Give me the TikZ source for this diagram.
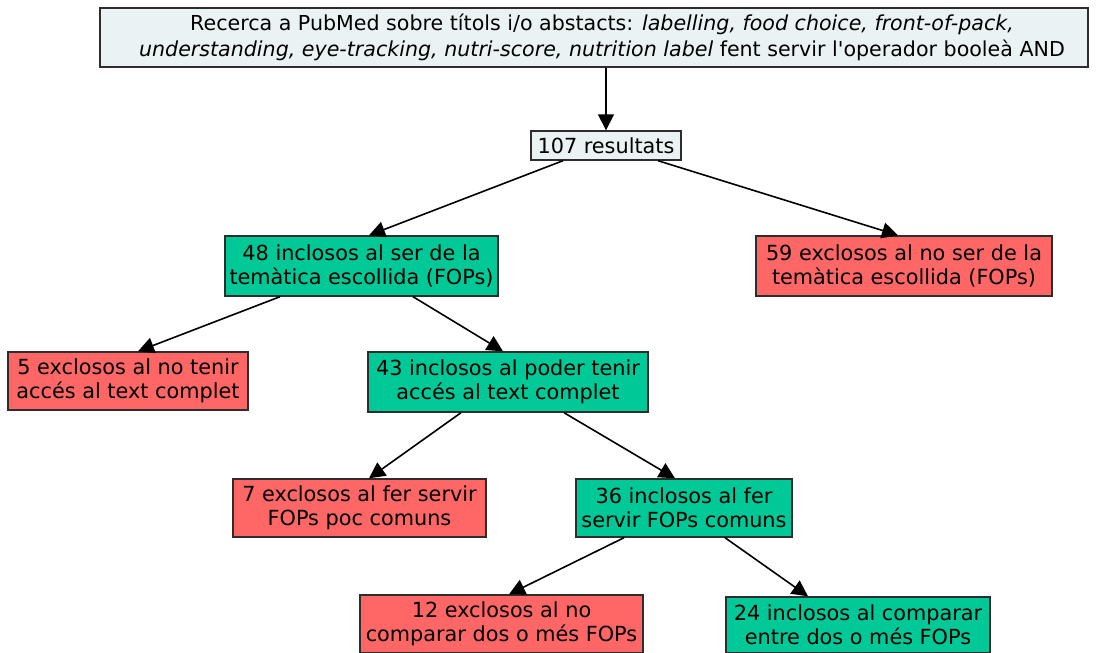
\documentclass[tikz,border=0pt]{standalone}
\usepackage{fontspec}
\setmainfont{DejaVu Sans}
\usetikzlibrary{arrows.meta}

\definecolor{boxgreen}{RGB}{0,200,150}
\definecolor{boxred}{RGB}{255,102,102}
\definecolor{boxgrey}{RGB}{234,242,244}
\definecolor{boxline}{RGB}{45,45,45}

\tikzset{
  box/.style={draw=boxline, line width=1.4pt, align=center, inner sep=0pt,
    font=\fontsize{20.8}{24}\selectfont, minimum height=58pt},
  inbox/.style={box, fill=boxgreen},
  outbox/.style={box, fill=boxred},
  infobox/.style={box, fill=boxgrey},
  arrow/.style={line width=1.6pt, -{Triangle[length=16pt,width=16pt]}}
}

\begin{document}
\begin{tikzpicture}[x=1pt, y=-1pt]
    \useasboundingbox (0,0) rectangle (1103,653);

    % search and total
    \node[infobox, minimum width=988pt, minimum height=59pt,
      font=\fontsize{20.6}{26}\selectfont] (search) at (594,37.5)
      {\hspace*{16pt}Recerca a PubMed sobre títols i/o abstacts: \textit{labelling, food choice, front-of-pack,}\\
       \hspace*{16pt}\textit{understanding, eye-tracking, nutri-score, nutrition label} fent servir l\textquotesingle operador booleà AND};
    \node[infobox, minimum width=150pt, minimum height=29pt] (total) at (606,145.5) {107 resultats};

    % first selection: topic
    \node[inbox, minimum width=273pt, minimum height=60pt] (topic) at (361.5,266) {48 inclosos al ser de la\\temàtica escollida (FOPs)};
    \node[outbox, minimum width=296pt, minimum height=60pt] (notopic) at (904,266) {59 exclosos al no ser de la\\temàtica escollida (FOPs)};

    % second selection: full text
    \node[outbox, minimum width=240pt] (noaccess) at (128,381) {5 exclosos al no tenir\\accés al text complet};
    \node[inbox, minimum width=280pt, minimum height=60pt] (access) at (508,382) {43 inclosos al poder tenir\\accés al text complet};

    % third selection: common FOPs
    \node[outbox, minimum width=253pt] (rare) at (359.5,508) {7 exclosos al fer servir\\FOPs poc comuns};
    \node[inbox, minimum width=216pt] (common) at (684,508) {36 inclosos al fer\\servir FOPs comuns};

    % fourth selection: comparison
    \node[outbox, minimum width=283pt] (nocompare) at (501.5,624) {12 exclosos al no\\comparar dos o més FOPs};
    \node[inbox, minimum width=264pt, minimum height=56pt] (compare) at (858,625) {24 inclosos al comparar\\entre dos o més FOPs};

    % Arrows
    \draw[arrow] (search.south -| total.north) -- (total.north);
    \draw[arrow] ([xshift=-43pt]total.south) -- ([xshift=7.5pt]topic.north);
    \draw[arrow] ([xshift=52pt]total.south) -- ([xshift=-6pt]notopic.north);
    \draw[arrow] ([xshift=-81.5pt]topic.south) -- ([xshift=10pt]noaccess.north);
    \draw[arrow] ([xshift=51.5pt]topic.south) -- ([xshift=-5pt]access.north);
    \draw[arrow] ([xshift=-47pt]access.south) -- ([xshift=9.5pt]rare.north);
    \draw[arrow] ([xshift=56pt]access.south) -- ([xshift=-9pt]common.north);
    \draw[arrow] ([xshift=-60pt]common.south) -- ([xshift=7.5pt]nocompare.north);
    \draw[arrow] ([xshift=41pt]common.south) -- ([xshift=-50pt]compare.north);
\end{tikzpicture}
\end{document}
